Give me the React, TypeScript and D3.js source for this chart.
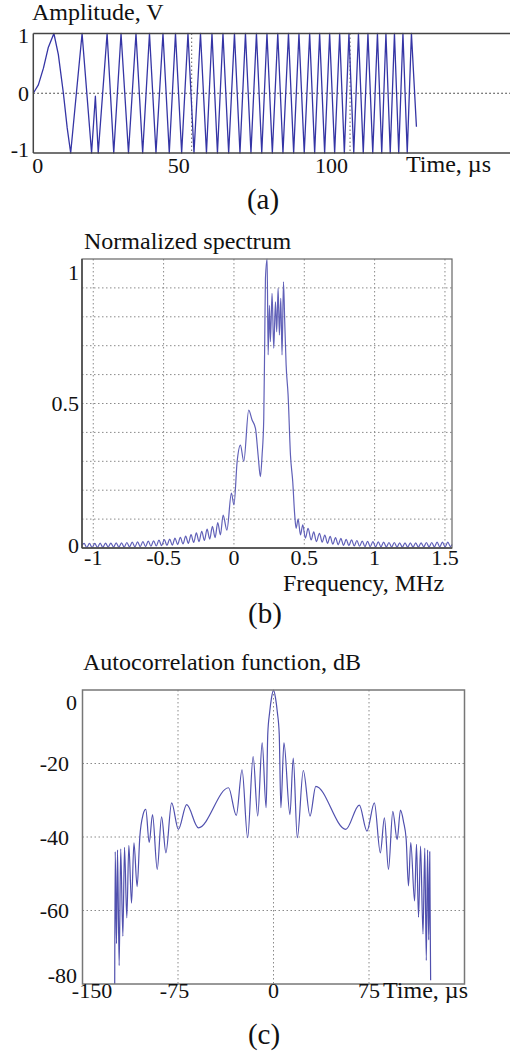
import React from 'react';
import * as d3 from 'd3';

// ---------- Panel (a): chirp signal, time (µs) / amplitude (V) ----------
const signalTime = [
  0, 1.6, 3.2, 4.7, 6.5, 7.9, 9.5, 10.7, 11.8,
  15.4, 18.4, 19.6, 20.5, 23.3, 25.4, 27.7, 30.05, 32.42, 34.53, 36.68, 38.73,
  40.94, 42.93, 44.89, 46.84, 48.83, 50.73, 52.78, 54.67, 56.41, 58.14, 59.88,
  61.68, 63.51, 65.25, 66.98, 68.72, 70.45, 72.13, 73.77, 75.47, 77.18, 78.82,
  80.56, 82.2, 83.87, 85.54, 87.25, 88.83, 90.4, 91.98, 93.56, 95.14, 96.72,
  98.2, 99.65, 101.17, 102.65, 104.17, 105.65, 107.17, 108.65, 110.01, 111.33,
  112.69, 114.02, 115.37, 116.7, 118.06, 119.38, 120.96,
];
const signalAmp = [
  0, 0.14, 0.42, 0.76, 1, 0.65, 0, -0.58, -1,
  1, -1, -0.05, -1, 1, -1, 1, -1, 1, -1, 1, -1,
  1, -1, 1, -1, 1, -1, 1, -1, 1, -1, 1,
  -1, 1, -1, 1, -1, 1, -1, 1, -1, 1, -1,
  1, -1, 1, -1, 1, -1, 1, -1, 1, -1, 1,
  -1, 1, -1, 1, -1, 1, -1, 1, -1, 1,
  -1, 1, -1, 1, -1, 1, -0.56,
];
const aTicksX = [0, 50, 100];
const aTicksY = [1, 0, -1];

// ---------- Panel (b): normalized spectrum, frequency (MHz) ----------
const spectrumPoints: [number, number][] = [
  [-1.08, 0.01], [-1.065, 0.016], [-1.046, 0.002], [-1.027, 0.016], [-1.008, 0.002],
  [-0.989, 0.016], [-0.97, 0.002], [-0.951, 0.017], [-0.932, 0.002], [-0.913, 0.017],
  [-0.894, 0.003], [-0.875, 0.017], [-0.856, 0.003], [-0.837, 0.018], [-0.818, 0.003],
  [-0.799, 0.018], [-0.78, 0.003], [-0.761, 0.019], [-0.742, 0.004], [-0.723, 0.02],
  [-0.704, 0.004], [-0.685, 0.021], [-0.666, 0.005], [-0.647, 0.022], [-0.628, 0.005],
  [-0.609, 0.024], [-0.59, 0.006], [-0.571, 0.025], [-0.552, 0.007], [-0.533, 0.027],
  [-0.514, 0.008], [-0.495, 0.029], [-0.476, 0.009], [-0.457, 0.031], [-0.438, 0.01],
  [-0.419, 0.034], [-0.4, 0.012], [-0.381, 0.037], [-0.362, 0.014], [-0.343, 0.041],
  [-0.324, 0.016], [-0.305, 0.046], [-0.286, 0.019], [-0.267, 0.052], [-0.248, 0.022],
  [-0.229, 0.058], [-0.21, 0.026], [-0.191, 0.065], [-0.172, 0.031], [-0.153, 0.075],
  [-0.134, 0.036], [-0.115, 0.088], [-0.096, 0.045], [-0.077, 0.114], [-0.05, 0.062],
  [-0.018, 0.19], [0.0, 0.149], [0.023, 0.3], [0.046, 0.356], [0.07, 0.3],
  [0.105, 0.477], [0.129, 0.443], [0.153, 0.414], [0.172, 0.32], [0.188, 0.247],
  [0.2, 0.32], [0.212, 0.449], [0.219, 0.726], [0.224, 0.933], [0.236, 1.0],
  [0.243, 0.668], [0.252, 0.84], [0.259, 0.714], [0.271, 0.881], [0.283, 0.691],
  [0.295, 0.852], [0.304, 0.748], [0.314, 0.899], [0.323, 0.737], [0.333, 0.864],
  [0.342, 0.668], [0.352, 0.921], [0.361, 0.783], [0.371, 0.633], [0.385, 0.529],
  [0.402, 0.32], [0.418, 0.229], [0.432, 0.114], [0.442, 0.068], [0.456, 0.1],
  [0.473, 0.045], [0.489, 0.08], [0.508, 0.034], [0.527, 0.068], [0.549, 0.028],
  [0.567, 0.056], [0.586, 0.022], [0.608, 0.051], [0.627, 0.02], [0.646, 0.045],
  [0.665, 0.016], [0.684, 0.04], [0.703, 0.013], [0.722, 0.036], [0.741, 0.011],
  [0.76, 0.033], [0.779, 0.009], [0.798, 0.03], [0.817, 0.008], [0.836, 0.028],
  [0.855, 0.007], [0.874, 0.026], [0.893, 0.006], [0.912, 0.024], [0.931, 0.005],
  [0.95, 0.023], [0.969, 0.005], [0.988, 0.022], [1.007, 0.004], [1.026, 0.021],
  [1.045, 0.004], [1.064, 0.02], [1.083, 0.004], [1.102, 0.019], [1.121, 0.003],
  [1.14, 0.019], [1.159, 0.003], [1.178, 0.018], [1.197, 0.003], [1.216, 0.018],
  [1.235, 0.003], [1.254, 0.018], [1.273, 0.003], [1.292, 0.018], [1.311, 0.003],
  [1.33, 0.018], [1.349, 0.004], [1.368, 0.019], [1.387, 0.004], [1.406, 0.019],
  [1.425, 0.004], [1.444, 0.02], [1.463, 0.004], [1.482, 0.02], [1.501, 0.004],
  [1.52, 0.02], [1.539, 0.005], [1.55, 0.012],
];
const bTicksX = [-1, -0.5, 0, 0.5, 1, 1.5];
const bTicksY = [1, 0.5, 0];

// ---------- Panel (c): autocorrelation function, dB ----------
const acfTime = [
  -124.7, -124.3, -123.3, -122.5, -121.2, -120.0, -118.3, -117.0, -115.2, -113.6,
  -111.5, -109.6, -107.1, -105.0, -102.5, -100.3, -97.6, -95.0, -91.3, -87.9,
  -84.5, -80.0, -74.7, -68.2, -59.0, -35.3, -29.2, -24.7, -20.3, -16.0,
  -12.4, -8.9, -5.8, -4.5, -3.0, -1.5, 0,
  1.5, 3.0, 4.5, 5.8, 8.2, 12.9, 15.5, 18.7, 23.4, 28.7, 33.2, 56.8, 67.4,
  73.4, 79.2, 83.9, 87.1, 90.3, 93.7, 97.1, 99.7, 102.2, 104.2, 106.0, 107.8,
  110.8, 112.3, 113.9, 115.5, 117.4, 118.8, 120.0, 121.0, 121.9, 122.7, 123.4,
];
const acfDb = [
  -80, -44, -69, -43.5, -75, -43.2, -67, -42.8, -62, -42.3,
  -58, -41.6, -53.5, -40, -34, -32.5, -41.5, -33.9, -48.8, -34.5,
  -44.3, -30.7, -37.9, -31.2, -37.5, -26.6, -34.1, -21.7, -40.2, -18.1,
  -34.3, -14.4, -32, -12, -6, -2, 0,
  -2, -6, -12, -32, -14.4, -33.9, -18.5, -40.2, -21.9, -34.3, -26.2, -37.9, -31.3,
  -38.4, -30.7, -44.3, -34.8, -48.8, -33, -40.7, -32.7, -36, -40.6, -53.3, -41.5,
  -57.4, -42, -61.8, -42.5, -66.4, -43, -73.6, -43.5, -68, -44, -79,
];
const cTicksX = [-150, -75, 0, 75];
const cTicksY = [0, -20, -40, -60, -80];

const FONT = 'Liberation Serif';
const GRID = { stroke: '#8a8a8a', strokeWidth: 1, strokeDasharray: '1.5 2.5' };

export default function App() {
  // ---- panel (a) ----
  const A = { l: 33.3, r: 510, t: 33.5, b: 153 };
  const xA = d3.scaleLinear().domain([0, 150.5]).range([A.l, A.r]);
  const yA = d3.scaleLinear().domain([-1, 1]).range([A.b, A.t]);
  const lineA = d3.line<number>().x((d, i) => xA(signalTime[i])).y((d) => yA(d));

  // ---- panel (b) ----
  const B = { l: 82, r: 452, t: 259, b: 548 };
  const xB = d3.scaleLinear().domain([-1.08, 1.55]).range([B.l, B.r]);
  const yB = d3.scaleLinear().domain([0, 1]).range([B.b, B.t]);
  const lineB = d3.line<[number, number]>().x((d) => xB(d[0])).y((d) => yB(d[1])).curve(d3.curveMonotoneX);
  const bGridY = d3.range(1, 10).map((k) => k / 10);

  // ---- panel (c) ----
  const C = { l: 82.5, r: 464.5, t: 690, b: 984 };
  const xC = d3.scaleLinear().domain([-150, 150]).range([C.l, C.r]);
  const yC = d3.scaleLinear().domain([-80, 0]).range([C.b, C.t]);
  const lineC = d3.line<number>().x((d, i) => xC(acfTime[i])).y((d) => yC(d)).curve(d3.curveMonotoneX);

  const clamp = (v: number, lo: number, hi: number) => Math.max(lo, Math.min(hi, v));
  const txt = { fill: '#111', fontFamily: FONT };

  return (
    <svg width={510} height={1055} style={{ position: 'absolute', left: 0, top: 0, background: '#fff' }}>
      {/* ================= (a) ================= */}
      <g>
        {[50, 100].map((v) => (
          <line key={v} x1={xA(v)} x2={xA(v)} y1={A.t} y2={A.b} {...GRID} stroke="#666" />
        ))}
        <line x1={A.l} x2={A.r} y1={yA(0)} y2={yA(0)} stroke="#222" strokeWidth={1} strokeDasharray="1.5 2.5" />
        <path d={lineA(signalAmp) || ''} fill="none" stroke="#3535a5" strokeWidth={1.3} strokeLinejoin="round" />
        <line x1={A.l} x2={A.r} y1={A.t} y2={A.t} stroke="#444" strokeWidth={1.5} />
        <line x1={A.l} x2={A.r} y1={A.b} y2={A.b} stroke="#444" strokeWidth={1.5} />
        <line x1={A.l} x2={A.l} y1={A.t} y2={A.b} stroke="#444" strokeWidth={1.5} />
        {aTicksY.map((v) => (
          <text key={v} x={29} y={clamp(yA(v), A.t + 1.5, A.b - 3.5) + 7.5} fontSize={22} textAnchor="end" {...txt}>
            {v}
          </text>
        ))}
        {aTicksX.map((v, i) => (
          <text key={v} x={i === 0 ? xA(v) - 1 : xA(v) - 2} y={173} fontSize={22} textAnchor={i === 0 ? 'start' : 'end'} {...txt}>
            {v}
          </text>
        ))}
        <text x={32} y={20} fontSize={24} {...txt}>Amplitude, V</text>
        <text x={406} y={172} fontSize={24} {...txt}>Time, µs</text>
        <text x={263} y={209} fontSize={29} textAnchor="middle" {...txt}>(a)</text>
      </g>

      {/* ================= (b) ================= */}
      <g>
        {bTicksX.map((v) => (
          <line key={'gx' + v} x1={xB(v)} x2={xB(v)} y1={B.t} y2={B.b} {...GRID} />
        ))}
        {bGridY.map((v) => (
          <line key={'gy' + v} x1={B.l} x2={B.r} y1={yB(v)} y2={yB(v)} {...GRID} />
        ))}
        <path d={lineB(spectrumPoints) || ''} fill="none" stroke="#6060b8" strokeWidth={1.2} strokeLinejoin="round" />
        <rect x={B.l} y={B.t} width={B.r - B.l} height={B.b - B.t} fill="none" stroke="#666" strokeWidth={1.2} />
        <line x1={B.l} x2={B.r} y1={B.b} y2={B.b} stroke="#444" strokeWidth={1.5} />
        <line x1={B.l} x2={B.l} y1={B.t} y2={B.b} stroke="#444" strokeWidth={1.5} />
        {bTicksY.map((v) => (
          <text key={v} x={79} y={clamp(yB(v), B.t + 13, B.b - 3) + 7.5} fontSize={22} textAnchor="end" {...txt}>
            {v}
          </text>
        ))}
        {bTicksX.map((v) => (
          <text key={v} x={Math.max(xB(v), B.l - 1)} y={565} fontSize={22} textAnchor="middle" {...txt}>
            {v}
          </text>
        ))}
        <text x={84} y={249} fontSize={24} {...txt}>Normalized spectrum</text>
        <text x={283} y={591} fontSize={24} {...txt}>Frequency, MHz</text>
        <text x={265} y={622.5} fontSize={29} textAnchor="middle" {...txt}>(b)</text>
      </g>

      {/* ================= (c) ================= */}
      <g>
        {cTicksX.slice(1).map((v) => (
          <line key={'gx' + v} x1={xC(v)} x2={xC(v)} y1={C.t} y2={C.b} {...GRID} />
        ))}
        {cTicksY.slice(1, 4).map((v) => (
          <line key={'gy' + v} x1={C.l} x2={C.r} y1={yC(v)} y2={yC(v)} {...GRID} />
        ))}
        <path d={lineC(acfDb) || ''} fill="none" stroke="#5050ae" strokeWidth={1.2} strokeLinejoin="round" />
        <rect x={C.l} y={C.t} width={C.r - C.l} height={C.b - C.t} fill="none" stroke="#777" strokeWidth={1.5} />
        {cTicksY.map((v, i) => {
          const edge = i === 0 || i === cTicksY.length - 1;
          return (
            <text key={v} x={edge ? 77 : 69} y={clamp(yC(v), C.t + 12, C.b - 9) + 7.5} fontSize={22} textAnchor="end" {...txt}>
              {v}
            </text>
          );
        })}
        {cTicksX.map((v) => (
          <text key={v} x={Math.max(xC(v), C.l + 9.5) - (v === -75 ? 3.5 : 0)} y={998} fontSize={22} textAnchor="middle" {...txt}>
            {v}
          </text>
        ))}
        <text x={83} y={670} fontSize={24} {...txt}>Autocorrelation function, dB</text>
        <text x={383} y={998} fontSize={24} {...txt}>Time, µs</text>
        <text x={264} y={1044} fontSize={29} textAnchor="middle" {...txt}>(c)</text>
      </g>
    </svg>
  );
}
